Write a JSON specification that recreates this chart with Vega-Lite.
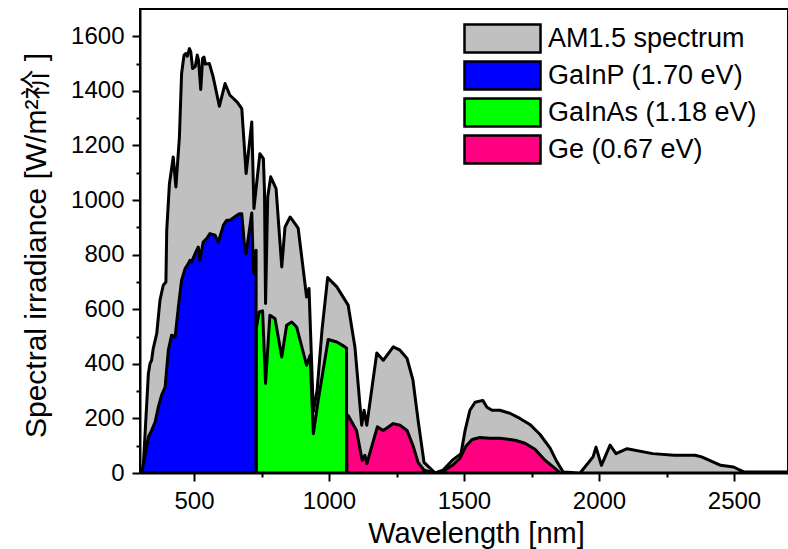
{
  "$schema": "https://vega.github.io/schema/vega-lite/v6.json",
  "width": 648,
  "height": 464,
  "autosize": "none",
  "padding": {"left": 140, "top": 9, "right": 0, "bottom": 76},
  "background": "white",
  "config": {
    "font": "Liberation Sans",
    "view": {"stroke": "black", "strokeWidth": 2},
    "axis": {"grid": false, "domainColor": "black", "domainWidth": 2, "tickColor": "black", "tickWidth": 2, "labelColor": "black", "titleColor": "black", "labelFont": "Liberation Sans", "titleFont": "Liberation Sans, Noto Sans CJK SC", "labelFontSize": 24, "titleFontWeight": "normal", "labelOverlap": false, "labelFlush": false}
  },
  "datasets": {
    "spec": [
      {"series": "AM1.5 spectrum", "wavelength": 300, "irradiance": 0},
      {"series": "AM1.5 spectrum", "wavelength": 312, "irradiance": 22},
      {"series": "AM1.5 spectrum", "wavelength": 331, "irradiance": 364},
      {"series": "AM1.5 spectrum", "wavelength": 337, "irradiance": 401},
      {"series": "AM1.5 spectrum", "wavelength": 343, "irradiance": 413},
      {"series": "AM1.5 spectrum", "wavelength": 349, "irradiance": 456},
      {"series": "AM1.5 spectrum", "wavelength": 362, "irradiance": 511},
      {"series": "AM1.5 spectrum", "wavelength": 374, "irradiance": 633},
      {"series": "AM1.5 spectrum", "wavelength": 386, "irradiance": 688},
      {"series": "AM1.5 spectrum", "wavelength": 396, "irradiance": 700},
      {"series": "AM1.5 spectrum", "wavelength": 399, "irradiance": 889},
      {"series": "AM1.5 spectrum", "wavelength": 409, "irradiance": 1060},
      {"series": "AM1.5 spectrum", "wavelength": 417, "irradiance": 1115},
      {"series": "AM1.5 spectrum", "wavelength": 423, "irradiance": 1158},
      {"series": "AM1.5 spectrum", "wavelength": 433, "irradiance": 1048},
      {"series": "AM1.5 spectrum", "wavelength": 446, "irradiance": 1231},
      {"series": "AM1.5 spectrum", "wavelength": 454, "irradiance": 1463},
      {"series": "AM1.5 spectrum", "wavelength": 463, "irradiance": 1531},
      {"series": "AM1.5 spectrum", "wavelength": 470, "irradiance": 1537},
      {"series": "AM1.5 spectrum", "wavelength": 475, "irradiance": 1527},
      {"series": "AM1.5 spectrum", "wavelength": 483, "irradiance": 1555},
      {"series": "AM1.5 spectrum", "wavelength": 488, "irradiance": 1543},
      {"series": "AM1.5 spectrum", "wavelength": 495, "irradiance": 1482},
      {"series": "AM1.5 spectrum", "wavelength": 505, "irradiance": 1490},
      {"series": "AM1.5 spectrum", "wavelength": 512, "irradiance": 1531},
      {"series": "AM1.5 spectrum", "wavelength": 517, "irradiance": 1512},
      {"series": "AM1.5 spectrum", "wavelength": 525, "irradiance": 1405},
      {"series": "AM1.5 spectrum", "wavelength": 532, "irradiance": 1519},
      {"series": "AM1.5 spectrum", "wavelength": 537, "irradiance": 1524},
      {"series": "AM1.5 spectrum", "wavelength": 542, "irradiance": 1498},
      {"series": "AM1.5 spectrum", "wavelength": 557, "irradiance": 1500},
      {"series": "AM1.5 spectrum", "wavelength": 571, "irradiance": 1451},
      {"series": "AM1.5 spectrum", "wavelength": 594, "irradiance": 1344},
      {"series": "AM1.5 spectrum", "wavelength": 615, "irradiance": 1427},
      {"series": "AM1.5 spectrum", "wavelength": 633, "irradiance": 1384},
      {"series": "AM1.5 spectrum", "wavelength": 646, "irradiance": 1372},
      {"series": "AM1.5 spectrum", "wavelength": 660, "irradiance": 1359},
      {"series": "AM1.5 spectrum", "wavelength": 677, "irradiance": 1335},
      {"series": "AM1.5 spectrum", "wavelength": 693, "irradiance": 1097},
      {"series": "AM1.5 spectrum", "wavelength": 714, "irradiance": 1286},
      {"series": "AM1.5 spectrum", "wavelength": 722, "irradiance": 969},
      {"series": "AM1.5 spectrum", "wavelength": 744, "irradiance": 1170},
      {"series": "AM1.5 spectrum", "wavelength": 757, "irradiance": 1152},
      {"series": "AM1.5 spectrum", "wavelength": 761, "irradiance": 1036},
      {"series": "AM1.5 spectrum", "wavelength": 765, "irradiance": 621},
      {"series": "AM1.5 spectrum", "wavelength": 773, "irradiance": 1011},
      {"series": "AM1.5 spectrum", "wavelength": 784, "irradiance": 1085},
      {"series": "AM1.5 spectrum", "wavelength": 804, "irradiance": 1042},
      {"series": "AM1.5 spectrum", "wavelength": 825, "irradiance": 755},
      {"series": "AM1.5 spectrum", "wavelength": 837, "irradiance": 901},
      {"series": "AM1.5 spectrum", "wavelength": 856, "irradiance": 938},
      {"series": "AM1.5 spectrum", "wavelength": 874, "irradiance": 914},
      {"series": "AM1.5 spectrum", "wavelength": 886, "irradiance": 896},
      {"series": "AM1.5 spectrum", "wavelength": 917, "irradiance": 645},
      {"series": "AM1.5 spectrum", "wavelength": 926, "irradiance": 676},
      {"series": "AM1.5 spectrum", "wavelength": 942, "irradiance": 225},
      {"series": "AM1.5 spectrum", "wavelength": 956, "irradiance": 303},
      {"series": "AM1.5 spectrum", "wavelength": 974, "irradiance": 523},
      {"series": "AM1.5 spectrum", "wavelength": 995, "irradiance": 716},
      {"series": "AM1.5 spectrum", "wavelength": 1029, "irradiance": 682},
      {"series": "AM1.5 spectrum", "wavelength": 1071, "irradiance": 615},
      {"series": "AM1.5 spectrum", "wavelength": 1096, "irradiance": 462},
      {"series": "AM1.5 spectrum", "wavelength": 1121, "irradiance": 175},
      {"series": "AM1.5 spectrum", "wavelength": 1130, "irradiance": 230},
      {"series": "AM1.5 spectrum", "wavelength": 1140, "irradiance": 175},
      {"series": "AM1.5 spectrum", "wavelength": 1177, "irradiance": 440},
      {"series": "AM1.5 spectrum", "wavelength": 1201, "irradiance": 413},
      {"series": "AM1.5 spectrum", "wavelength": 1238, "irradiance": 462},
      {"series": "AM1.5 spectrum", "wavelength": 1263, "irradiance": 450},
      {"series": "AM1.5 spectrum", "wavelength": 1289, "irradiance": 420},
      {"series": "AM1.5 spectrum", "wavelength": 1311, "irradiance": 340},
      {"series": "AM1.5 spectrum", "wavelength": 1330, "irradiance": 193},
      {"series": "AM1.5 spectrum", "wavelength": 1352, "irradiance": 39},
      {"series": "AM1.5 spectrum", "wavelength": 1393, "irradiance": 0},
      {"series": "AM1.5 spectrum", "wavelength": 1422, "irradiance": 10},
      {"series": "AM1.5 spectrum", "wavelength": 1457, "irradiance": 47},
      {"series": "AM1.5 spectrum", "wavelength": 1489, "irradiance": 71},
      {"series": "AM1.5 spectrum", "wavelength": 1504, "irradiance": 156},
      {"series": "AM1.5 spectrum", "wavelength": 1522, "irradiance": 230},
      {"series": "AM1.5 spectrum", "wavelength": 1541, "irradiance": 259},
      {"series": "AM1.5 spectrum", "wavelength": 1570, "irradiance": 266},
      {"series": "AM1.5 spectrum", "wavelength": 1585, "irradiance": 241},
      {"series": "AM1.5 spectrum", "wavelength": 1604, "irradiance": 230},
      {"series": "AM1.5 spectrum", "wavelength": 1633, "irradiance": 230},
      {"series": "AM1.5 spectrum", "wavelength": 1670, "irradiance": 219},
      {"series": "AM1.5 spectrum", "wavelength": 1707, "irradiance": 200},
      {"series": "AM1.5 spectrum", "wavelength": 1744, "irradiance": 178},
      {"series": "AM1.5 spectrum", "wavelength": 1781, "irradiance": 142},
      {"series": "AM1.5 spectrum", "wavelength": 1819, "irradiance": 91},
      {"series": "AM1.5 spectrum", "wavelength": 1841, "irradiance": 47},
      {"series": "AM1.5 spectrum", "wavelength": 1867, "irradiance": 4},
      {"series": "AM1.5 spectrum", "wavelength": 1930, "irradiance": 0},
      {"series": "AM1.5 spectrum", "wavelength": 1978, "irradiance": 59},
      {"series": "AM1.5 spectrum", "wavelength": 1989, "irradiance": 95},
      {"series": "AM1.5 spectrum", "wavelength": 2009, "irradiance": 28},
      {"series": "AM1.5 spectrum", "wavelength": 2041, "irradiance": 102},
      {"series": "AM1.5 spectrum", "wavelength": 2063, "irradiance": 71},
      {"series": "AM1.5 spectrum", "wavelength": 2104, "irradiance": 89},
      {"series": "AM1.5 spectrum", "wavelength": 2199, "irradiance": 71},
      {"series": "AM1.5 spectrum", "wavelength": 2278, "irradiance": 65},
      {"series": "AM1.5 spectrum", "wavelength": 2356, "irradiance": 65},
      {"series": "AM1.5 spectrum", "wavelength": 2380, "irradiance": 59},
      {"series": "AM1.5 spectrum", "wavelength": 2451, "irradiance": 28},
      {"series": "AM1.5 spectrum", "wavelength": 2498, "irradiance": 22},
      {"series": "AM1.5 spectrum", "wavelength": 2536, "irradiance": 4},
      {"series": "AM1.5 spectrum", "wavelength": 2700, "irradiance": 4},

      {"series": "GaInP (1.70 eV)", "wavelength": 300, "irradiance": 0},
      {"series": "GaInP (1.70 eV)", "wavelength": 306, "irradiance": 0},
      {"series": "GaInP (1.70 eV)", "wavelength": 318, "irradiance": 59},
      {"series": "GaInP (1.70 eV)", "wavelength": 331, "irradiance": 132},
      {"series": "GaInP (1.70 eV)", "wavelength": 343, "irradiance": 156},
      {"series": "GaInP (1.70 eV)", "wavelength": 356, "irradiance": 187},
      {"series": "GaInP (1.70 eV)", "wavelength": 368, "irradiance": 242},
      {"series": "GaInP (1.70 eV)", "wavelength": 380, "irradiance": 285},
      {"series": "GaInP (1.70 eV)", "wavelength": 393, "irradiance": 315},
      {"series": "GaInP (1.70 eV)", "wavelength": 405, "irradiance": 450},
      {"series": "GaInP (1.70 eV)", "wavelength": 417, "irradiance": 505},
      {"series": "GaInP (1.70 eV)", "wavelength": 430, "irradiance": 498},
      {"series": "GaInP (1.70 eV)", "wavelength": 442, "irradiance": 608},
      {"series": "GaInP (1.70 eV)", "wavelength": 454, "irradiance": 706},
      {"series": "GaInP (1.70 eV)", "wavelength": 467, "irradiance": 749},
      {"series": "GaInP (1.70 eV)", "wavelength": 479, "irradiance": 767},
      {"series": "GaInP (1.70 eV)", "wavelength": 485, "irradiance": 779},
      {"series": "GaInP (1.70 eV)", "wavelength": 491, "irradiance": 773},
      {"series": "GaInP (1.70 eV)", "wavelength": 504, "irradiance": 804},
      {"series": "GaInP (1.70 eV)", "wavelength": 516, "irradiance": 828},
      {"series": "GaInP (1.70 eV)", "wavelength": 522, "irradiance": 779},
      {"series": "GaInP (1.70 eV)", "wavelength": 534, "irradiance": 846},
      {"series": "GaInP (1.70 eV)", "wavelength": 547, "irradiance": 859},
      {"series": "GaInP (1.70 eV)", "wavelength": 559, "irradiance": 877},
      {"series": "GaInP (1.70 eV)", "wavelength": 578, "irradiance": 871},
      {"series": "GaInP (1.70 eV)", "wavelength": 590, "irradiance": 846},
      {"series": "GaInP (1.70 eV)", "wavelength": 609, "irradiance": 908},
      {"series": "GaInP (1.70 eV)", "wavelength": 621, "irradiance": 926},
      {"series": "GaInP (1.70 eV)", "wavelength": 633, "irradiance": 926},
      {"series": "GaInP (1.70 eV)", "wavelength": 658, "irradiance": 944},
      {"series": "GaInP (1.70 eV)", "wavelength": 670, "irradiance": 950},
      {"series": "GaInP (1.70 eV)", "wavelength": 677, "irradiance": 950},
      {"series": "GaInP (1.70 eV)", "wavelength": 689, "irradiance": 810},
      {"series": "GaInP (1.70 eV)", "wavelength": 693, "irradiance": 804},
      {"series": "GaInP (1.70 eV)", "wavelength": 714, "irradiance": 953},
      {"series": "GaInP (1.70 eV)", "wavelength": 720, "irradiance": 743},
      {"series": "GaInP (1.70 eV)", "wavelength": 722, "irradiance": 731},
      {"series": "GaInP (1.70 eV)", "wavelength": 726, "irradiance": 810},
      {"series": "GaInP (1.70 eV)", "wavelength": 730, "irradiance": 816},

      {"series": "GaInAs (1.18 eV)", "wavelength": 731, "irradiance": 530},
      {"series": "GaInAs (1.18 eV)", "wavelength": 741, "irradiance": 590},
      {"series": "GaInAs (1.18 eV)", "wavelength": 754, "irradiance": 594},
      {"series": "GaInAs (1.18 eV)", "wavelength": 765, "irradiance": 328},
      {"series": "GaInAs (1.18 eV)", "wavelength": 781, "irradiance": 578},
      {"series": "GaInAs (1.18 eV)", "wavelength": 800, "irradiance": 566},
      {"series": "GaInAs (1.18 eV)", "wavelength": 825, "irradiance": 425},
      {"series": "GaInAs (1.18 eV)", "wavelength": 843, "irradiance": 541},
      {"series": "GaInAs (1.18 eV)", "wavelength": 862, "irradiance": 553},
      {"series": "GaInAs (1.18 eV)", "wavelength": 880, "irradiance": 535},
      {"series": "GaInAs (1.18 eV)", "wavelength": 917, "irradiance": 395},
      {"series": "GaInAs (1.18 eV)", "wavelength": 930, "irradiance": 431},
      {"series": "GaInAs (1.18 eV)", "wavelength": 942, "irradiance": 144},
      {"series": "GaInAs (1.18 eV)", "wavelength": 960, "irradiance": 266},
      {"series": "GaInAs (1.18 eV)", "wavelength": 997, "irradiance": 489},
      {"series": "GaInAs (1.18 eV)", "wavelength": 1029, "irradiance": 480},
      {"series": "GaInAs (1.18 eV)", "wavelength": 1059, "irradiance": 462},
      {"series": "GaInAs (1.18 eV)", "wavelength": 1065, "irradiance": 457},

      {"series": "Ge (0.67 eV)", "wavelength": 1066, "irradiance": 211},
      {"series": "Ge (0.67 eV)", "wavelength": 1071, "irradiance": 211},
      {"series": "Ge (0.67 eV)", "wavelength": 1102, "irradiance": 156},
      {"series": "Ge (0.67 eV)", "wavelength": 1123, "irradiance": 46},
      {"series": "Ge (0.67 eV)", "wavelength": 1133, "irradiance": 65},
      {"series": "Ge (0.67 eV)", "wavelength": 1140, "irradiance": 34},
      {"series": "Ge (0.67 eV)", "wavelength": 1179, "irradiance": 169},
      {"series": "Ge (0.67 eV)", "wavelength": 1201, "irradiance": 156},
      {"series": "Ge (0.67 eV)", "wavelength": 1238, "irradiance": 181},
      {"series": "Ge (0.67 eV)", "wavelength": 1263, "irradiance": 175},
      {"series": "Ge (0.67 eV)", "wavelength": 1289, "irradiance": 156},
      {"series": "Ge (0.67 eV)", "wavelength": 1311, "irradiance": 101},
      {"series": "Ge (0.67 eV)", "wavelength": 1330, "irradiance": 39},
      {"series": "Ge (0.67 eV)", "wavelength": 1352, "irradiance": 10},
      {"series": "Ge (0.67 eV)", "wavelength": 1393, "irradiance": 0},
      {"series": "Ge (0.67 eV)", "wavelength": 1422, "irradiance": 6},
      {"series": "Ge (0.67 eV)", "wavelength": 1457, "irradiance": 28},
      {"series": "Ge (0.67 eV)", "wavelength": 1485, "irradiance": 54},
      {"series": "Ge (0.67 eV)", "wavelength": 1507, "irradiance": 98},
      {"series": "Ge (0.67 eV)", "wavelength": 1530, "irradiance": 123},
      {"series": "Ge (0.67 eV)", "wavelength": 1559, "irradiance": 130},
      {"series": "Ge (0.67 eV)", "wavelength": 1596, "irradiance": 127},
      {"series": "Ge (0.67 eV)", "wavelength": 1633, "irradiance": 127},
      {"series": "Ge (0.67 eV)", "wavelength": 1689, "irradiance": 120},
      {"series": "Ge (0.67 eV)", "wavelength": 1726, "irradiance": 109},
      {"series": "Ge (0.67 eV)", "wavelength": 1763, "irradiance": 87},
      {"series": "Ge (0.67 eV)", "wavelength": 1800, "irradiance": 47},
      {"series": "Ge (0.67 eV)", "wavelength": 1837, "irradiance": 17},
      {"series": "Ge (0.67 eV)", "wavelength": 1852, "irradiance": 4}
    ]
  },
  "data": {"name": "spec"},
  "encoding": {
    "x": {
      "field": "wavelength", "type": "quantitative",
      "scale": {"domain": [300, 2700], "nice": false, "zero": false},
      "axis": {
        "title": "Wavelength [nm]", "titleFontSize": 29, "titleX": 336, "titleY": 69, "titleBaseline": "alphabetic",
        "values": [500, 750, 1000, 1250, 1500, 1750, 2000, 2250, 2500],
        "format": "d",
        "labelExpr": "datum.value % 500 === 0 ? datum.label : ''",
        "tickSize": {"condition": {"test": "datum.value % 500 === 0", "value": 8}, "value": 4},
        "labelPadding": 8
      }
    },
    "y": {
      "field": "irradiance", "type": "quantitative", "stack": null,
      "scale": {"domain": [0, 1700], "nice": false},
      "axis": {
        "title": "Spectral irradiance [W/m²祄 ]", "titleFontSize": 30, "titleX": -95, "titleY": 236, "titleBaseline": "alphabetic",
        "values": [0, 100, 200, 300, 400, 500, 600, 700, 800, 900, 1000, 1100, 1200, 1300, 1400, 1500, 1600],
        "format": "d",
        "labelExpr": "datum.value % 200 === 0 ? datum.label : ''",
        "tickSize": {"condition": {"test": "datum.value % 200 === 0", "value": 8}, "value": 4},
        "labelPadding": 8
      }
    },
    "color": {
      "field": "series", "type": "nominal",
      "scale": {
        "domain": ["AM1.5 spectrum", "GaInP (1.70 eV)", "GaInAs (1.18 eV)", "Ge (0.67 eV)"],
        "range": ["#c0c0c0", "#0000ff", "#00ff00", "#ff0080"]
      },
      "legend": {
        "orient": "none", "legendX": 323, "legendY": 14, "title": null, "padding": 0,
        "symbolType": "M-1,-1H4.43V1H-1Z", "symbolSize": 784,
        "symbolStrokeColor": "black", "symbolStrokeWidth": 2.5, "symbolOpacity": 1,
        "labelFontSize": 27, "labelFont": "Liberation Sans", "labelColor": "black",
        "labelOffset": 54, "rowPadding": -2, "labelLimit": 400
      }
    }
  },
  "layer": [
    {"transform": [{"filter": "datum.series === 'AM1.5 spectrum'"}],
     "mark": {"type": "area", "stroke": "black", "strokeWidth": 3, "strokeJoin": "round", "opacity": 1, "fillOpacity": 1, "clip": true}},
    {"transform": [{"filter": "datum.series === 'GaInP (1.70 eV)'"}],
     "mark": {"type": "area", "stroke": "black", "strokeWidth": 3, "strokeJoin": "round", "opacity": 1, "fillOpacity": 1, "clip": true}},
    {"transform": [{"filter": "datum.series === 'GaInAs (1.18 eV)'"}],
     "mark": {"type": "area", "stroke": "black", "strokeWidth": 3, "strokeJoin": "round", "opacity": 1, "fillOpacity": 1, "clip": true}},
    {"transform": [{"filter": "datum.series === 'Ge (0.67 eV)'"}],
     "mark": {"type": "area", "stroke": "black", "strokeWidth": 3, "strokeJoin": "round", "opacity": 1, "fillOpacity": 1, "clip": true}}
  ]
}
